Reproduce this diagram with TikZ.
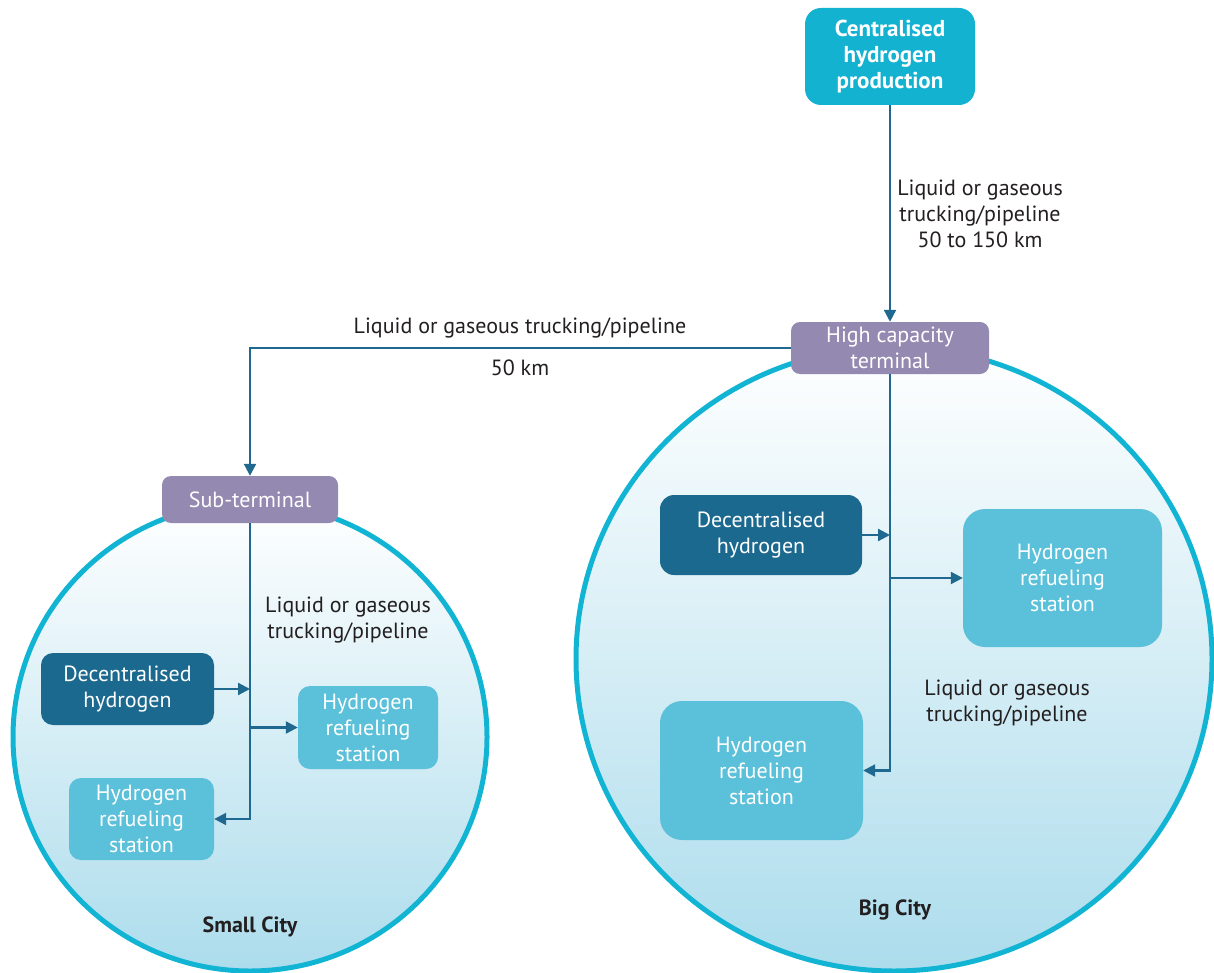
\documentclass[tikz,border=0pt]{standalone}
\usepackage{fontspec}
\setmainfont{PT Sans}
\usetikzlibrary{arrows.meta}
\definecolor{cyanbox}{HTML}{13B2D1}
\definecolor{purp}{HTML}{9389B1}
\definecolor{darkbox}{HTML}{1C6990}
\definecolor{lightbox}{HTML}{5BC0D9}
\definecolor{ring}{HTML}{12B4D4}
\definecolor{linec}{HTML}{1F6990}
\definecolor{txt}{HTML}{231F20}
\definecolor{fillbot}{HTML}{ACDCEC}
\begin{document}
\begin{tikzpicture}[x=1pt,y=-1pt,
  box/.style={rounded corners=#1, text=white, align=center, inner sep=0pt,
    font=\fontsize{22}{26}\selectfont},
  box/.default=12pt,
  lbl/.style={text=txt, align=center, inner sep=0pt, font=\fontsize{22}{26}\selectfont},
  conn/.style={draw=linec, line width=2.2pt, -{Triangle[length=12pt,width=12pt]}},
  city/.style={draw=ring, line width=5pt, top color=white, bottom color=fillbot}]
\useasboundingbox (0,0) rectangle (1214,973);
% cities
\path[city] (894,659) ellipse [x radius=318, y radius=312];
\path[city] (250,737) ellipse [x radius=237, y radius=234];
% boxes
\node[box=16pt, fill=cyanbox, minimum width=170pt, minimum height=97pt, font=\fontsize{23}{26}\selectfont\bfseries] (cent) at (890,56.5) {Centralised\\hydrogen\\production};
\node[box=9pt, fill=purp, minimum width=198pt, minimum height=52pt] (hct) at (890,348) {High capacity\\terminal};
\node[box=9pt, fill=purp, minimum width=176pt, minimum height=47pt] (sub) at (250,499.5) {Sub-terminal};
\node[box=14pt, fill=darkbox, minimum width=202pt, minimum height=80pt] (bdec) at (761,535) {Decentralised\\hydrogen};
\node[box=22pt, fill=lightbox, minimum width=199pt, minimum height=138pt] (bref1) at (1062.5,578) {Hydrogen\\refueling\\station};
\node[box=22pt, fill=lightbox, minimum width=203pt, minimum height=139pt] (bref2) at (761.5,770.5) {Hydrogen\\refueling\\station};
\node[box=12pt, fill=darkbox, minimum width=173pt, minimum height=72pt] (sdec) at (127.5,689) {Decentralised\\hydrogen};
\node[box=12pt, fill=lightbox, minimum width=140pt, minimum height=83pt] (sref1) at (368,727.5) {Hydrogen\\refueling\\station};
\node[box=12pt, fill=lightbox, minimum width=145pt, minimum height=82pt] (sref2) at (141.5,819) {Hydrogen\\refueling\\station};
% connectors
\draw[conn] (cent.south) -- (hct.north);
\draw[conn] (hct.west) -| (sub.north);
\draw[conn] (hct.south) |- (bref2.east);
\draw[conn] (bdec.east) -- (bdec.east -| hct.south);
\draw[conn] (hct.south |- bref1.west) -- (bref1.west);
\draw[conn] (sub.south) |- (sref2.east);
\draw[conn] (sdec.east) -- (sdec.east -| sub.south);
\draw[conn] (sub.south |- sref1.west) -- (sref1.west);
% labels
\node[lbl] (l1) at (980,214) {Liquid or gaseous\\trucking/pipeline\\50 to 150 km};
\node[lbl] (l2a) at (520,328) {Liquid or gaseous trucking/pipeline};
\node[lbl] (l2b) at (520,368) {50 km};
\node[lbl] (l3) at (1007,703) {Liquid or gaseous\\trucking/pipeline};
\node[lbl] (l4) at (348,620) {Liquid or gaseous\\trucking/pipeline};
\node[lbl, font=\fontsize{22}{26}\selectfont\bfseries] (sc) at (250,927) {Small City};
\node[lbl, font=\fontsize{22}{26}\selectfont\bfseries] (bc) at (895,910) {Big City};
\end{tikzpicture}
\end{document}
